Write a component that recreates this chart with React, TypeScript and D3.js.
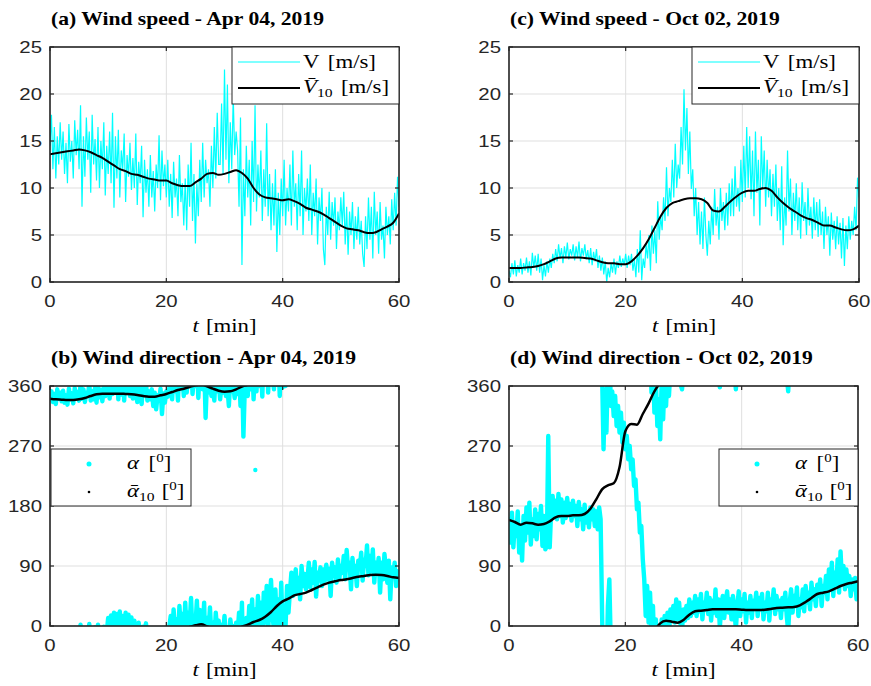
import React from 'react';
import * as d3 from 'd3';

// text in the reference figure is stretched sideways, so every label is scaled by SX
const SX = 1.2;
const SANS = "'Liberation Sans', Arial, Helvetica, sans-serif";
const SERIF = "'Liberation Serif', 'Times New Roman', serif";
const AXIS = '#262626';
const GRID = '#dfdfdf';
const CYAN = '#00ffff';

const minuteTicks = [0, 20, 40, 60];
const speedTicks = [0, 5, 10, 15, 20, 25];
const dirTicks = [0, 90, 180, 270, 360];

// wind speed V [m/s], Apr 04, one value every 0.25 min
const speedApr = [
  14.5, 17.8, 12.0, 16.5, 11.0, 15.5, 12.5, 17.0, 13.0,
  16.0, 11.5, 14.8, 10.5, 16.8, 12.8, 15.0, 11.0, 17.2, 13.5, 16.2, 12.0,
  18.8, 8.0, 15.5, 11.2, 17.5, 13.0, 16.0, 9.5, 17.8, 12.5, 15.2, 10.8,
  16.5, 10.0, 15.0, 12.0, 17.0, 9.2, 14.5, 11.5, 16.0, 10.5, 18.0, 7.9,
  15.5, 11.0, 16.2, 9.0, 14.0, 12.0, 15.8, 8.5, 13.5, 11.2, 14.8, 9.8,
  13.2, 10.0, 15.8, 8.2, 12.8, 10.5, 14.5, 6.9, 13.0, 9.5, 12.0, 8.0,
  13.5, 9.0, 11.8, 7.5, 12.5, 10.0, 15.6, 8.7, 14.0, 10.2, 12.5, 9.0,
  13.0, 8.0, 11.5, 6.8, 12.8, 9.0, 11.0, 7.0, 13.5, 8.5, 10.5, 6.0,
  11.0, 5.5, 12.5, 8.0, 14.8, 6.5, 11.5, 4.1, 10.5, 7.0, 13.0, 8.5,
  14.8, 9.0, 13.0, 10.5, 12.0, 8.0, 14.5, 10.0, 16.5, 11.0, 18.0, 12.5,
  12.5, 19.0, 11.5, 22.6, 13.0, 21.0, 10.5, 17.0, 12.0, 19.8, 13.5, 16.0,
  14.0, 8.0, 17.5, 1.8, 12.0, 7.0, 14.5, 9.0, 13.0, 6.0, 15.0, 8.5,
  18.8, 7.5, 12.5, 9.0, 14.0, 6.5, 12.0, 8.0, 16.9, 7.0, 11.5, 5.5,
  10.5, 6.0, 12.0, 3.2, 9.5, 5.0, 11.0, 7.0, 13.0, 6.0, 10.0, 7.5,
  12.5, 6.0, 14.0, 8.0, 10.5, 5.5, 11.5, 7.0, 14.0, 5.0, 10.0, 7.5,
  11.0, 6.5, 12.5, 5.0, 9.5, 7.0, 11.0, 4.0, 9.0, 6.5, 10.0, 3.5,
  1.8, 8.0, 5.0, 9.6, 4.5, 8.5, 6.0, 9.0, 3.5, 7.5, 5.5, 9.0,
  6.0, 9.6, 4.0, 8.0, 2.9, 7.5, 5.0, 8.5, 3.5, 7.0, 4.5, 8.0,
  4.0, 6.5, 3.0, 1.6, 7.0, 3.5, 9.0, 4.5, 8.0, 2.5, 9.6, 5.0,
  7.5, 3.0, 8.5, 4.5, 6.0, 2.5, 8.0, 5.0, 7.0, 4.0, 8.8, 5.5,
  9.5, 6.0, 11.2, 8.0,
];

// 10-min mean speed, Apr 04, one value per minute
const meanSpeedApr = [
  13.6, 13.7, 13.8, 13.9, 14.0, 14.1, 14.0, 13.8, 13.5, 13.2,
  12.8, 12.4, 12.0, 11.8, 11.5, 11.4, 11.2, 11.0, 10.9, 10.8,
  10.8, 10.5, 10.3, 10.2, 10.2, 10.6, 11.0, 11.5, 11.6, 11.4,
  11.5, 11.7, 11.9, 11.6, 11.0, 10.0, 9.3, 9.0, 8.9, 8.8,
  8.7, 8.8, 8.6, 8.3, 7.9, 7.7, 7.5, 7.2, 6.8, 6.4,
  6.0, 5.7, 5.6, 5.5, 5.3, 5.2, 5.3, 5.6, 5.9, 6.3, 7.3,
];

const speedOct = [
  1.2, 0.5, 2.0, 0.8, 2.3, 0.6, 1.8, 1.0, 2.5,
  0.8, 2.0, 1.2, 2.6, 1.0, 2.2, 0.7, 3.1, 1.5, 2.8, 1.2, 3.0,
  1.0, 2.5, 0.2, 1.8, 0.6, 2.2, 1.0, 2.5, 1.5, 3.0, 2.0, 3.5,
  2.2, 4.0, 2.5, 3.6, 2.0, 3.8, 2.6, 4.2, 2.4, 3.5, 2.8, 4.0,
  2.3, 3.8, 2.6, 4.3, 2.2, 3.6, 2.8, 4.0, 2.4, 3.4, 2.0, 3.6,
  1.8, 3.2, 2.2, 3.5, 1.5, 2.8, 1.2, 2.6, 0.8, 2.2, 0.0, 1.5,
  0.5, 2.0, 1.0, 2.5, 0.8, 2.2, 1.5, 2.8, 1.6, 2.5, 1.8, 3.0,
  1.5, 2.8, 1.8, 3.0, 1.2, 2.4, 0.5, 3.5, 1.0, 5.5, 0.2, 2.5,
  1.5, 4.0, 2.5, 5.0, 1.2, 6.0, 3.0, 5.5, 2.0, 8.6, 4.5, 7.0,
  5.5, 9.0, 6.5, 12.2, 7.0, 10.0, 8.5, 13.0, 9.0, 14.7, 10.0, 12.5,
  11.0, 16.5, 12.5, 20.5, 14.0, 18.5, 11.5, 16.0, 9.9, 12.0, 7.0, 10.0,
  5.0, 8.5, 4.0, 7.5, 3.5, 9.0, 5.0, 2.8, 6.5, 4.0, 8.0, 5.0,
  9.9, 6.0, 8.0, 4.5, 10.0, 6.5, 8.5, 5.5, 9.5, 6.0, 10.5, 7.0,
  11.0, 7.0, 12.3, 8.0, 10.0, 7.5, 13.0, 8.5, 14.5, 9.0, 16.5, 10.0,
  15.5, 8.8, 14.0, 7.0, 16.0, 9.5, 13.0, 6.0, 15.5, 10.0, 14.0, 8.0,
  13.0, 9.0, 12.0, 7.0, 11.5, 8.0, 12.5, 6.5, 10.0, 5.5, 12.3, 3.9,
  9.0, 6.0, 14.0, 7.5, 11.0, 5.0, 9.5, 6.5, 10.5, 5.5, 9.0, 4.6,
  10.6, 6.5, 8.5, 5.0, 10.0, 6.0, 8.0, 4.6, 9.0, 5.5, 8.5, 4.8,
  8.8, 5.0, 7.5, 3.5, 8.0, 5.0, 7.0, 2.8, 7.4, 4.5, 6.5, 3.5,
  7.0, 4.0, 6.3, 2.5, 6.8, 1.7, 6.0, 3.5, 7.0, 4.5, 6.5, 5.0,
  8.0, 5.5, 11.1, 9.0,
];

const meanSpeedOct = [
  1.5, 1.5, 1.5, 1.55, 1.6, 1.7, 1.9, 2.2, 2.5, 2.6,
  2.6, 2.6, 2.6, 2.55, 2.5, 2.3, 2.1, 2.0, 2.0, 1.9,
  1.9, 2.2, 2.8, 3.6, 4.6, 5.8, 7.0, 7.9, 8.4, 8.6,
  8.8, 8.9, 8.9, 8.8, 8.4, 7.6, 7.5, 8.0, 8.6, 9.1,
  9.5, 9.7, 9.7, 9.9, 10.0, 9.7, 9.0, 8.4, 7.9, 7.5,
  7.1, 6.8, 6.6, 6.3, 6.0, 6.0, 5.8, 5.6, 5.5, 5.6, 6.0,
];

// wind direction alpha [deg], 0..360, one value every 0.25 min
const dirApr = [
  340, 352, 336, 348, 333, 355, 341, 350, 337,
  353, 335, 346, 332, 356, 340, 349, 334, 357, 342, 351, 338,
  2, 341, 355, 336, 350, 345, 3, 338, 352, 340, 358, 335,
  2, 343, 354, 337, 359, 345, 350, 12, 341, 16, 348, 20,
  352, 18, 340, 22, 347, 15, 338, 20, 350, 17, 345, 13,
  341, 8, 353, 336, 5, 348, 333, 359, 347, 4, 338, 352,
  340, 355, 330, 350, 325, 346, 338, 356, 318, 349, 335, 352,
  344, 358, 15, 340, 25, 352, 10, 338, 30, 356, 18, 345,
  35, 350, 20, 2, 42, 348, 10, 0, 38, 342, 24, 6,
  355, 35, 312, 12, 350, 28, 345, 5, 338, 20, 352, 8,
  340, 2, 350, 15, 345, 358, 330, 10, 352, 0, 342, 5,
  348, 20, 330, 35, 284, 0, 12, 345, 30, 355, 40, 340,
  25, 352, 45, 0, 35, 344, 50, 5, 60, 350, 38, 69,
  15, 355, 55, 2, 40, 345, 65, 358, 30, 0, 60, 20,
  52, 80, 45, 65, 85, 50, 72, 40, 90, 60, 78, 55,
  70, 95, 58, 85, 65, 96, 44, 80, 68, 88, 60, 85,
  68, 92, 70, 86, 45, 95, 75, 88, 65, 100, 72, 90,
  80, 105, 70, 114, 85, 95, 55, 102, 78, 90, 60, 98,
  85, 110, 68, 100, 90, 121, 76, 105, 82, 115, 65, 95,
  80, 102, 50, 95, 70, 108, 85, 65, 98, 40, 88, 75,
  95, 60, 82, 70,
];

// lone sample [t, alpha] away from the band
const strayDirApr = [[35.3, 234]];

const meanDirApr = [
  341, 340, 339.5, 339, 339, 340, 342, 345, 347.5, 348.5,
  348.5, 348.5, 348.5, 348, 347.5, 346.5, 345, 344, 344, 346,
  348, 351, 354, 356, 358.5, 1, 2.5, 359.5, 356, 353,
  351.5, 352, 355, 359, 2, 6, 9, 14, 21, 30,
  37, 41, 46, 48, 50, 54, 58, 62, 65, 67,
  69, 70, 72, 74, 75, 76.5, 77, 76.5, 75, 73, 72,
];

const dirOct = [
  160, 125, 170, 118, 155, 135, 172, 110, 150,
  98, 165, 128, 178, 140, 185, 122, 160, 135, 175, 130, 168,
  145, 180, 120, 165, 115, 120, 285, 118, 175, 195, 165, 188,
  160, 198, 165, 190, 155, 185, 162, 192, 170, 183, 158, 188,
  165, 180, 150, 186, 160, 175, 145, 182, 155, 170, 148, 178,
  160, 175, 150, 172, 145, 178, 160, 20, 265, 355, 290, 30,
  70, 330, 352, 315, 345, 300, 330, 290, 320, 275, 305, 265,
  285, 250, 270, 235, 250, 210, 220, 175, 185, 140, 150, 100,
  70, 15, 60, 5, 50, 350, 30, 320, 10, 300, 340, 280,
  10, 310, 15, 330, 20, 345, 25, 8, 30, 5, 40, 10,
  35, 2, 355, 25, 8, 30, 12, 40, 15, 35, 20, 45,
  15, 40, 22, 48, 10, 35, 25, 50, 18, 42, 8, 38,
  20, 55, 15, 40, 358, 30, 45, 12, 35, 52, 20, 40,
  10, 45, 25, 355, 30, 52, 15, 40, 22, 48, 5, 35,
  20, 45, 12, 38, 28, 50, 15, 42, 25, 48, 10, 35,
  22, 50, 8, 40, 30, 55, 18, 45, 25, 38, 12, 42,
  25, 50, 15, 352, 35, 55, 20, 45, 30, 58, 15, 40,
  28, 55, 22, 60, 35, 50, 25, 65, 40, 55, 30, 62,
  45, 70, 30, 60, 50, 75, 40, 85, 55, 95, 45, 80,
  60, 100, 50, 112, 65, 90, 55, 85, 60, 75, 45, 70,
  55, 72, 40, 65,
];

const strayDirOct: number[][] = [];

const meanDirOct = [
  159, 156, 152, 155, 154, 152, 153, 157, 163, 165,
  165, 166, 166, 168, 176, 190, 205, 211, 214, 238,
  292, 303, 302, 318, 334, 352, 4, 8, 6.5, 5,
  9, 17, 22, 23, 24, 25, 25, 25, 25, 25,
  24.5, 24, 24, 24, 24.5, 25.5, 27, 27.5, 28, 28.5,
  31, 36, 42, 48, 50, 52, 56, 60, 63, 65, 67,
];

type Box = { l: number; r: number; t: number; b: number };
const boxA: Box = { l: 50, r: 399, t: 47, b: 282 };
const boxC: Box = { l: 509, r: 859, t: 47, b: 282 };
const boxB: Box = { l: 50, r: 399, t: 386, b: 626 };
const boxD: Box = { l: 509, r: 858, t: 386, b: 626 };

function Txt({ x, y, anchor = 'start', family = SANS, size = 17, weight = 'normal', fill = AXIS, children }: any) {
  return (
    <text transform={`translate(${x},${y}) scale(${SX},1)`} textAnchor={anchor}
      fontFamily={family} fontSize={size} fontWeight={weight} fill={fill}>
      {children}
    </text>
  );
}

const tAt = (n: number) => (i: number) => (i * 60) / (n - 1);

// pick for each sample the copy (+-360) closest to the one before it
function unwrap(vals: number[]) {
  const out: number[] = [];
  vals.forEach((v, i) => {
    if (i === 0) { out.push(v); return; }
    const prev = out[i - 1];
    let d = v - (((prev % 360) + 360) % 360);
    if (d > 180) d -= 360;
    if (d < -180) d += 360;
    out.push(prev + d);
  });
  return out;
}

function Axes({ id, box, yMax, yTicks, title, children }: any) {
  const x = d3.scaleLinear().domain([0, 60]).range([box.l, box.r]);
  const y = d3.scaleLinear().domain([0, yMax]).range([box.b, box.t]);
  const tick = 4;
  return (
    <g>
      <defs>
        <clipPath id={id}>
          <rect x={box.l} y={box.t} width={box.r - box.l} height={box.b - box.t} />
        </clipPath>
      </defs>
      {minuteTicks.map(m => (
        <line key={'gx' + m} x1={x(m)} x2={x(m)} y1={box.t} y2={box.b} stroke={GRID} strokeWidth={1} />
      ))}
      {yTicks.map((v: number) => (
        <line key={'gy' + v} x1={box.l} x2={box.r} y1={y(v)} y2={y(v)} stroke={GRID} strokeWidth={1} />
      ))}
      <g clipPath={`url(#${id})`}>{children(x, y)}</g>
      {minuteTicks.map(m => (
        <g key={'tx' + m}>
          <line x1={x(m)} x2={x(m)} y1={box.b} y2={box.b - tick} stroke={AXIS} strokeWidth={1.2} />
          <line x1={x(m)} x2={x(m)} y1={box.t} y2={box.t + tick} stroke={AXIS} strokeWidth={1.2} />
          <Txt x={x(m)} y={box.b + 24.5} anchor="middle">{m}</Txt>
        </g>
      ))}
      {yTicks.map((v: number) => (
        <g key={'ty' + v}>
          <line x1={box.l} x2={box.l + tick} y1={y(v)} y2={y(v)} stroke={AXIS} strokeWidth={1.2} />
          <line x1={box.r} x2={box.r - tick} y1={y(v)} y2={y(v)} stroke={AXIS} strokeWidth={1.2} />
          <Txt x={box.l - 8} y={y(v) + 6} anchor="end">{v}</Txt>
        </g>
      ))}
      <rect x={box.l} y={box.t} width={box.r - box.l} height={box.b - box.t}
        fill="none" stroke={AXIS} strokeWidth={1.6} />
      <Txt x={box.l + 1} y={box.t - 22} family={SERIF} size={18} weight="bold" fill="#000">{title}</Txt>
      <Txt x={(box.l + box.r) / 2} y={box.b + 50} anchor="middle" family={SERIF} size={19} fill="#000">
        <tspan fontStyle="italic">t</tspan>
        <tspan dx={6}>[min]</tspan>
      </Txt>
    </g>
  );
}

function SpeedLegend({ x0, y0 }: { x0: number; y0: number }) {
  return (
    <g>
      <rect x={x0} y={y0} width={167} height={57} fill="#fff" stroke={AXIS} strokeWidth={1} />
      <line x1={x0 + 6} x2={x0 + 68} y1={y0 + 15} y2={y0 + 15} stroke={CYAN} strokeWidth={1.2} />
      <line x1={x0 + 6} x2={x0 + 68} y1={y0 + 41} y2={y0 + 41} stroke="#000" strokeWidth={2} />
      <Txt x={x0 + 71} y={y0 + 21} family={SERIF} size={19} fill="#000">
        <tspan>V</tspan>
        <tspan dx={7}>[m/s]</tspan>
      </Txt>
      <Txt x={x0 + 71} y={y0 + 46} family={SERIF} size={19} fill="#000">
        <tspan fontStyle="italic">{'V\u0304'}</tspan>
        <tspan fontSize={13} dy={4}>10</tspan>
        <tspan dy={-4} dx={7}>[m/s]</tspan>
      </Txt>
    </g>
  );
}

function DirLegend({ x0, y0, w }: { x0: number; y0: number; w: number }) {
  return (
    <g>
      <rect x={x0} y={y0} width={w} height={57} fill="#fff" stroke={AXIS} strokeWidth={1} />
      <circle cx={x0 + 38} cy={y0 + 15} r={2.5} fill={CYAN} />
      <circle cx={x0 + 38} cy={y0 + 43} r={1.3} fill="#000" />
      <Txt x={x0 + 76} y={y0 + 20} family={SERIF} size={19} fill="#000">
        <tspan fontStyle="italic">{'\u03b1'}</tspan>
        <tspan dx={8}>[</tspan>
        <tspan fontSize={12.5} dy={-7}>0</tspan>
        <tspan dy={7}>]</tspan>
      </Txt>
      <Txt x={x0 + 76} y={y0 + 48} family={SERIF} size={19} fill="#000">
        <tspan fontStyle="italic">{'\u03b1\u0304'}</tspan>
        <tspan fontSize={13} dy={4}>10</tspan>
        <tspan dy={-4} dx={6}>[</tspan>
        <tspan fontSize={12.5} dy={-7}>0</tspan>
        <tspan dy={7}>]</tspan>
      </Txt>
    </g>
  );
}

function SpeedPanel({ id, box, title, v, mean }: any) {
  return (
    <g>
      <Axes id={id} box={box} yMax={25} yTicks={speedTicks} title={title}>
        {(x: any, y: any) => {
          const tv = tAt(v.length);
          const tm = tAt(mean.length);
          const raw = d3.line<number>().x((d, i) => x(tv(i))).y(d => y(d));
          const smooth = d3.line<number>().x((d, i) => x(tm(i))).y(d => y(d)).curve(d3.curveMonotoneX);
          return (
            <g>
              <path d={raw(v) || ''} fill="none" stroke={CYAN} strokeWidth={1.2} />
              <path d={smooth(mean) || ''} fill="none" stroke="#000" strokeWidth={2} />
            </g>
          );
        }}
      </Axes>
      <SpeedLegend x0={box.r - 167} y0={box.t} />
    </g>
  );
}

function DirPanel({ id, box, title, a, mean, stray, legendX, legendW }: any) {
  const ua = unwrap(a);
  const um = unwrap(mean);
  const shifts = [-720, -360, 0, 360, 720];
  return (
    <g>
      <Axes id={id} box={box} yMax={360} yTicks={dirTicks} title={title}>
        {(x: any, y: any) => {
          const ta = tAt(ua.length);
          const tm = tAt(um.length);
          return (
            <g>
              {shifts.map(k => {
                const dots = d3.line<number>().x((d, i) => x(ta(i))).y(d => y(d - k));
                return <path key={'a' + k} d={dots(ua) || ''} fill="none" stroke={CYAN}
                  strokeWidth={4.4} strokeLinecap="round" strokeLinejoin="round" />;
              })}
              {stray.map((p: number[], i: number) => (
                <circle key={'s' + i} cx={x(p[0])} cy={y(p[1])} r={2.2} fill={CYAN} />
              ))}
              {shifts.map(k => {
                const avg = d3.line<number>().x((d, i) => x(tm(i))).y(d => y(d - k)).curve(d3.curveMonotoneX);
                return <path key={'m' + k} d={avg(um) || ''} fill="none" stroke="#000" strokeWidth={2.5} />;
              })}
            </g>
          );
        }}
      </Axes>
      <DirLegend x0={legendX} y0={449} w={legendW} />
    </g>
  );
}

export default function App() {
  return (
    <svg width={871} height={686} style={{ position: 'absolute', left: 0, top: 0, background: '#fff' }}>
      <rect width={871} height={686} fill="#fff" />
      <SpeedPanel id="clipA" box={boxA} title="(a) Wind speed - Apr 04, 2019" v={speedApr} mean={meanSpeedApr} />
      <SpeedPanel id="clipC" box={boxC} title="(c) Wind speed - Oct 02, 2019" v={speedOct} mean={meanSpeedOct} />
      <DirPanel id="clipB" box={boxB} title="(b) Wind direction - Apr 04, 2019" a={dirApr} mean={meanDirApr}
        stray={strayDirApr} legendX={51} legendW={140} />
      <DirPanel id="clipD" box={boxD} title="(d) Wind direction - Oct 02, 2019" a={dirOct} mean={meanDirOct}
        stray={strayDirOct} legendX={719} legendW={139} />
    </svg>
  );
}
